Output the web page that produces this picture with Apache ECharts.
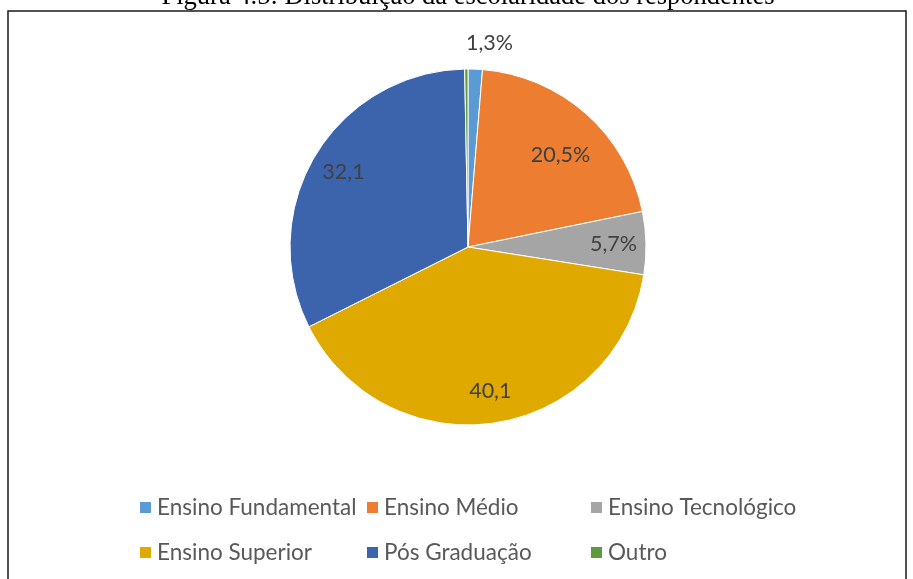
<!DOCTYPE html>
<html>
<head>
<meta charset="utf-8">
<script src="https://cdn.jsdelivr.net/npm/echarts@6/dist/echarts.min.js"></script>
<style>
  html, body { margin: 0; padding: 0; background: #fff; }
  #chart { width: 913px; height: 579px; }
</style>
</head>
<body>
<div id="chart"></div>
<script>
// dados
const categorias = ['Ensino Fundamental', 'Ensino Médio', 'Ensino Tecnológico', 'Ensino Superior', 'Pós Graduação', 'Outro']
const valores = [1.3, 20.5, 5.7, 40.1, 32.1, 0.3]
const rotulos = ['1,3%', '20,5%', '5,7%', '40,1', '32,1', '']
const cores = ['#5B9BD5', '#ED7D31', '#A5A5A5', '#E0A900', '#3C64AD', '#5E9A3C']

const titulo = 'Figura 4.5: Distribuição da escolaridade dos respondentes'

// posições da legenda (3 colunas x 2 linhas)
const colX = [138, 365, 589]
const rowY = [496, 541]

const fonte = 'Lato, "Open Sans", sans-serif'

const chart = echarts.init(document.getElementById('chart'))

const dados = categorias.map((c, i) => ({
  name: c,
  value: valores[i],
  itemStyle: { color: cores[i] }
}))

// séries transparentes só para os rótulos
const dadosRotulo = (mostrar) => categorias.map((c, i) => ({
  name: c,
  value: valores[i],
  label: { show: mostrar(i), formatter: rotulos[i] }
}))

const legendas = categorias.map((c, i) => ({
  data: [c],
  left: colX[i % 3],
  top: rowY[Math.floor(i / 3)],
  padding: 0,
  icon: 'rect',
  itemWidth: 13,
  itemHeight: 13,
  itemGap: 6,
  selectedMode: false,
  textStyle: { fontFamily: fonte, fontSize: 22.5, color: '#595959' }
}))

const labelBase = {
  position: 'inside',
  fontFamily: fonte,
  fontSize: 21.5,
  color: '#404040'
}

// pequenos ajustes como no Excel
const ajusteRotulo = {
  0: [13, 4],
  1: [-4, 17]
}

const option = {
  animation: false,
  color: cores,
  legend: legendas,
  graphic: [
    {
      type: 'rect',
      shape: { x: 8, y: 11, width: 898, height: 620 },
      style: { fill: 'none', stroke: '#1a1a1a', lineWidth: 1.5 },
      silent: true
    },
    {
      type: 'text',
      x: 468,
      y: -3,
      style: {
        text: titulo,
        fontFamily: '"Liberation Serif", "Times New Roman", serif',
        fontSize: 26.5,
        fill: '#000',
        align: 'center',
        verticalAlign: 'middle'
      },
      silent: true
    }
  ],
  series: [
    {
      type: 'pie',
      center: [468, 247],
      radius: 178,
      startAngle: 90,
      avoidLabelOverlap: false,
      label: { show: false },
      labelLine: { show: false },
      itemStyle: { borderColor: '#fff', borderWidth: 1 },
      emphasis: { disabled: true },
      data: dados
    },
    {
      type: 'pie',
      center: [468, 247],
      radius: [107, 178],
      startAngle: 90,
      silent: true,
      avoidLabelOverlap: false,
      itemStyle: { color: 'transparent' },
      emphasis: { disabled: true },
      label: labelBase,
      labelLine: { show: false },
      labelLayout: function (p) {
        const d = ajusteRotulo[p.dataIndex]
        return d ? { dx: d[0], dy: d[1] } : {}
      },
      data: dadosRotulo(i => i >= 1 && i <= 4)
    },
    {
      type: 'pie',
      center: [468, 247],
      radius: [190, 220],
      startAngle: 90,
      silent: true,
      avoidLabelOverlap: false,
      itemStyle: { color: 'transparent' },
      emphasis: { disabled: true },
      label: labelBase,
      labelLine: { show: false },
      labelLayout: function (p) {
        const d = ajusteRotulo[p.dataIndex]
        return d ? { dx: d[0], dy: d[1] } : {}
      },
      data: dadosRotulo(i => i === 0)
    }
  ]
}

chart.setOption(option)
</script>
</body>
</html>
